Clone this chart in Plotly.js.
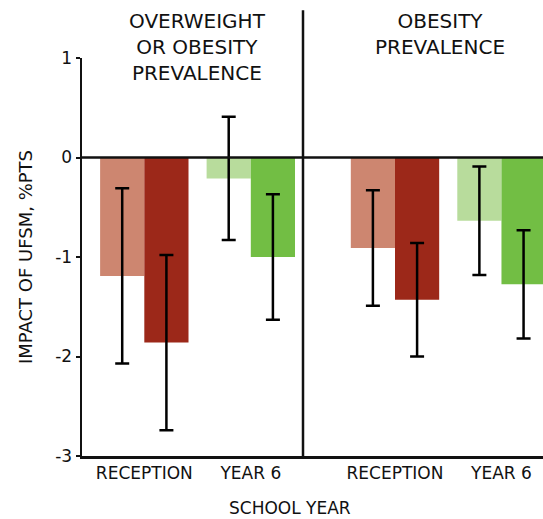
<!DOCTYPE html>
<html>
<head>
<meta charset="utf-8">
<script src="https://cdn.plot.ly/plotly-3.0.1.min.js"></script>
<style>html,body{margin:0;padding:0;background:#fff;}#chart{width:543px;height:519px;}</style>
</head>
<body>
<div id="chart"></div>
<script>
// ---- data ----
const categories = ['RECEPTION', 'YEAR 6'];
const panelTitles = ['OVERWEIGHT<br>OR OBESITY<br>PREVALENCE', 'OBESITY<br>PREVALENCE'];
// Overweight or obesity prevalence
const owLight = [-1.19, -0.21];
const owLightErr = [0.88, 0.62];
const owDark = [-1.86, -1.0];
const owDarkErr = [0.88, 0.63];
// Obesity prevalence
const obLight = [-0.91, -0.635];
const obLightErr = [0.58, 0.545];
const obDark = [-1.43, -1.275];
const obDarkErr = [0.57, 0.545];
const yTicks = [1, 0, -1, -2, -3];
const yTitle = 'IMPACT OF UFSM, %PTS';
const xTitle = 'SCHOOL YEAR';

// ---- styles ----
const lightColors = ['#CD8670', '#B8DC9C'];
const darkColors = ['#9C2819', '#72BE44'];
const FONT = 'DejaVu Sans, sans-serif';
const errStyle = (arr) => ({type: 'data', array: arr, visible: true, color: '#000', thickness: 2.5, width: 7});

function barTrace(vals, errs, colors, xa, ya) {
  return {
    type: 'bar', x: categories, y: vals, xaxis: xa, yaxis: ya,
    marker: {color: colors, line: {width: 0}},
    error_y: errStyle(errs), hoverinfo: 'skip', showlegend: false
  };
}

const data = [
  barTrace(owLight, owLightErr, lightColors, 'x', 'y'),
  barTrace(owDark, owDarkErr, darkColors, 'x', 'y'),
  barTrace(obLight, obLightErr, lightColors, 'x2', 'y2'),
  barTrace(obDark, obDarkErr, darkColors, 'x2', 'y2')
];

const split = 221 / 461;
const tickFont = {family: FONT, size: 17, color: '#111'};
const xBase = {
  type: 'category', showline: true, linecolor: '#111', linewidth: 2.5,
  ticks: '', showgrid: false, zeroline: false, tickfont: tickFont, fixedrange: true
};

const layout = {
  width: 543, height: 519,
  margin: {l: 82, r: 0, t: 58, b: 63},
  paper_bgcolor: '#fff', plot_bgcolor: '#fff',
  barmode: 'group', bargap: 0.17, bargroupgap: 0,
  font: {family: FONT, color: '#111'},
  xaxis: Object.assign({}, xBase, {domain: [0, split], range: [-0.585, 1.49], anchor: 'y'}),
  xaxis2: Object.assign({}, xBase, {domain: [split, 1], range: [-0.864, 1.39], anchor: 'y2'}),
  yaxis: {
    range: [-3, 1], tickvals: yTicks, ticktext: yTicks.map(String),
    showline: true, linecolor: '#111', linewidth: 2.5,
    ticks: 'outside', ticklen: 4, tickwidth: 2, tickcolor: '#111',
    showgrid: false, zeroline: false, tickfont: tickFont, fixedrange: true,
    title: {text: yTitle, font: {family: FONT, size: 18, color: '#111'}, standoff: 18}
  },
  yaxis2: {
    range: [-3, 1], anchor: 'x2', matches: 'y', showticklabels: false, ticks: '',
    showline: false, showgrid: false, zeroline: false, fixedrange: true
  },
  shapes: [
    {type: 'line', xref: 'paper', yref: 'y', x0: 0, x1: 1, y0: 0, y1: 0, line: {color: '#111', width: 2.5}},
    {type: 'line', xref: 'paper', yref: 'paper', x0: split, x1: split, y0: 0, y1: 1.12, line: {color: '#111', width: 2.5}}
  ],
  annotations: [
    {xref: 'paper', yref: 'paper', x: (197 - 82) / 461, xanchor: 'center', y: 1.128, yanchor: 'top', showarrow: false,
     text: panelTitles[0], font: {family: FONT, size: 20, color: '#111'}},
    {xref: 'paper', yref: 'paper', x: (440 - 82) / 461, xanchor: 'center', y: 1.128, yanchor: 'top', showarrow: false,
     text: panelTitles[1], font: {family: FONT, size: 20, color: '#111'}},
    {xref: 'paper', yref: 'paper', x: (290 - 82) / 461, xanchor: 'center', y: -0.13, yanchor: 'middle', showarrow: false,
     text: xTitle, font: {family: FONT, size: 17, color: '#111'}}
  ]
};

Plotly.newPlot('chart', data, layout, {displayModeBar: false, staticPlot: true});
</script>
</body>
</html>
